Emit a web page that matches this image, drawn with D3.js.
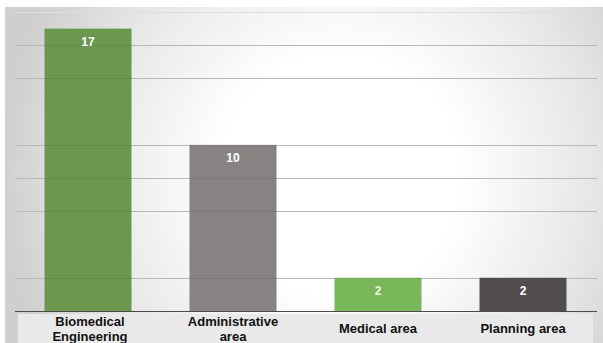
<!DOCTYPE html>
<html>
<head>
<meta charset="utf-8">
<script src="https://cdn.jsdelivr.net/npm/d3@7"></script>
<style>
  html, body { margin: 0; padding: 0; background: #fff; }
  svg { display: block; }
</style>
</head>
<body>
<svg id="chart" width="603" height="343"></svg>
<script>
// Staff counts by area
const categories = ["Biomedical Engineering", "Administrative area", "Medical area", "Planning area"];
const labelLines = [["Biomedical", "Engineering"], ["Administrative", "area"], ["Medical area"], ["Planning area"]];
const values = [17, 10, 2, 2];
const barColors = ["#6b974f", "#878382", "#7ab75b", "#524e4e"];
const gridValues = [2, 6, 8, 10, 14, 16, 18];

const W = 603, H = 343;
const svg = d3.select("#chart");
const defs = svg.append("defs");

const grad = defs.append("radialGradient")
  .attr("id", "bg")
  .attr("gradientUnits", "userSpaceOnUse")
  .attr("cx", 340).attr("cy", 175).attr("r", 340);
grad.append("stop").attr("offset", "0%").attr("stop-color", "#ffffff");
grad.append("stop").attr("offset", "35%").attr("stop-color", "#ffffff");
grad.append("stop").attr("offset", "75%").attr("stop-color", "#e6e6e6");
grad.append("stop").attr("offset", "100%").attr("stop-color", "#cfcfcf");

svg.append("rect")
  .attr("x", 5).attr("y", 7).attr("width", W - 5).attr("height", H - 7)
  .attr("fill", "url(#bg)");

const x = d3.scaleBand()
  .domain(categories)
  .range([15.5, 595.5])
  .paddingInner(0.4)
  .paddingOuter(0.2);

const y = d3.scaleLinear()
  .domain([0, 18])
  .range([311, 12]);

// gridlines beneath the bars
const grid = svg.append("g");
grid.selectAll("line")
  .data(gridValues)
  .join("line")
  .attr("x1", 15).attr("x2", 597)
  .attr("y1", d => Math.round(y(d)) + 0.5)
  .attr("y2", d => Math.round(y(d)) + 0.5)
  .attr("stroke", d => d === 18 ? "#dedede" : "#c6c6c6")
  .attr("stroke-width", 1);

svg.append("g").selectAll("rect")
  .data(values)
  .join("rect")
  .attr("x", (d, i) => x(categories[i]))
  .attr("width", x.bandwidth())
  .attr("y", d => y(d))
  .attr("height", d => y(0) - y(d))
  .attr("fill", (d, i) => barColors[i]);

// faint gridlines showing through the bars
svg.append("g").selectAll("line")
  .data(gridValues.filter(v => v < 18))
  .join("line")
  .attr("x1", 15).attr("x2", 597)
  .attr("y1", d => Math.round(y(d)) + 0.5)
  .attr("y2", d => Math.round(y(d)) + 0.5)
  .attr("stroke", "rgba(0,0,0,0.07)");

// value labels
svg.append("g").selectAll("text")
  .data(values)
  .join("text")
  .attr("x", (d, i) => x(categories[i]) + x.bandwidth() / 2)
  .attr("y", d => y(d) + 17)
  .attr("text-anchor", "middle")
  .attr("font-family", "Liberation Sans, Arial, sans-serif")
  .attr("font-weight", "bold")
  .attr("font-size", 12)
  .attr("fill", (d, i) => i === 2 ? "#eef5e8" : "#ffffff")
  .text(d => d);

// baseline
svg.append("line")
  .attr("x1", 15).attr("x2", 597)
  .attr("y1", Math.round(y(0)) + 0.5).attr("y2", Math.round(y(0)) + 0.5)
  .attr("stroke", "#4a4a4a")
  .attr("stroke-width", 1.2);

// category label band
svg.append("rect")
  .attr("x", 18).attr("y", 314).attr("width", 575).attr("height", H - 314)
  .attr("fill", "#e9e9e9");

const catG = svg.append("g");
labelLines.forEach((lines, i) => {
  const cx = x(categories[i]) + x.bandwidth() / 2 + (i === 0 ? 2 : 0);
  const t = catG.append("text")
    .attr("x", cx)
    .attr("text-anchor", "middle")
    .attr("font-family", "Liberation Sans, Arial, sans-serif")
    .attr("font-weight", "bold")
    .attr("font-size", 13)
    .attr("fill", "#111");
  const startY = lines.length === 2 ? 326 : 333;
  lines.forEach((ln, j) => {
    t.append("tspan").attr("x", cx).attr("y", startY + j * 15).text(ln);
  });
});
</script>
</body>
</html>
